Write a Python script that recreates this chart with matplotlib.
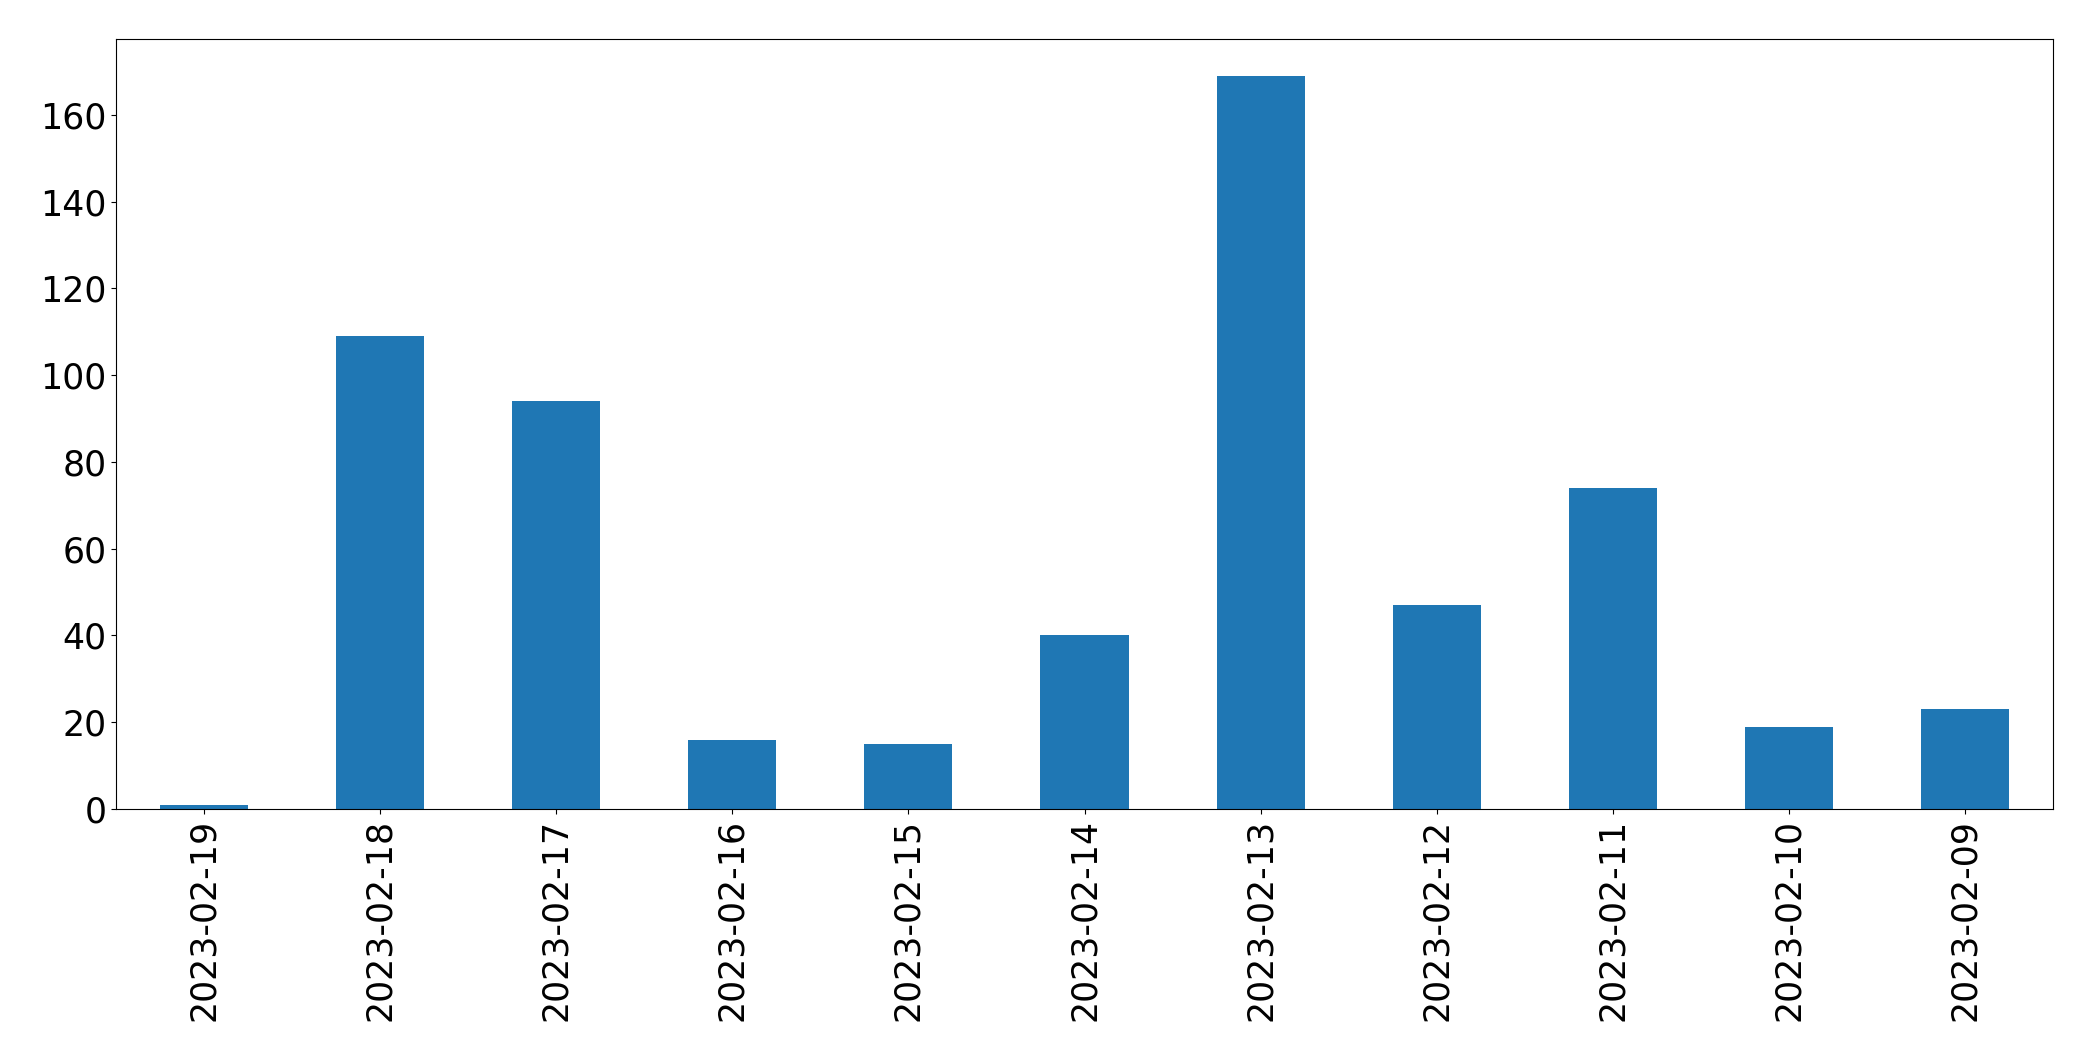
import pandas as pd
import matplotlib.pyplot as plt

dates = ['2023-02-19', '2023-02-18', '2023-02-17', '2023-02-16', '2023-02-15',
         '2023-02-14', '2023-02-13', '2023-02-12', '2023-02-11', '2023-02-10',
         '2023-02-09']
counts = [1, 109, 94, 16, 15, 40, 169, 47, 74, 19, 23]

s = pd.Series(counts, index=dates)

fig = plt.figure(figsize=(20.93, 10.61), dpi=100)
ax = fig.add_axes([116 / 2093, 1 - 809 / 1061, (2053 - 116) / 2093, (809 - 39) / 1061])
s.plot(kind='bar', ax=ax, fontsize=25, color='#1f77b4')
plt.savefig("out.png", dpi=100)
